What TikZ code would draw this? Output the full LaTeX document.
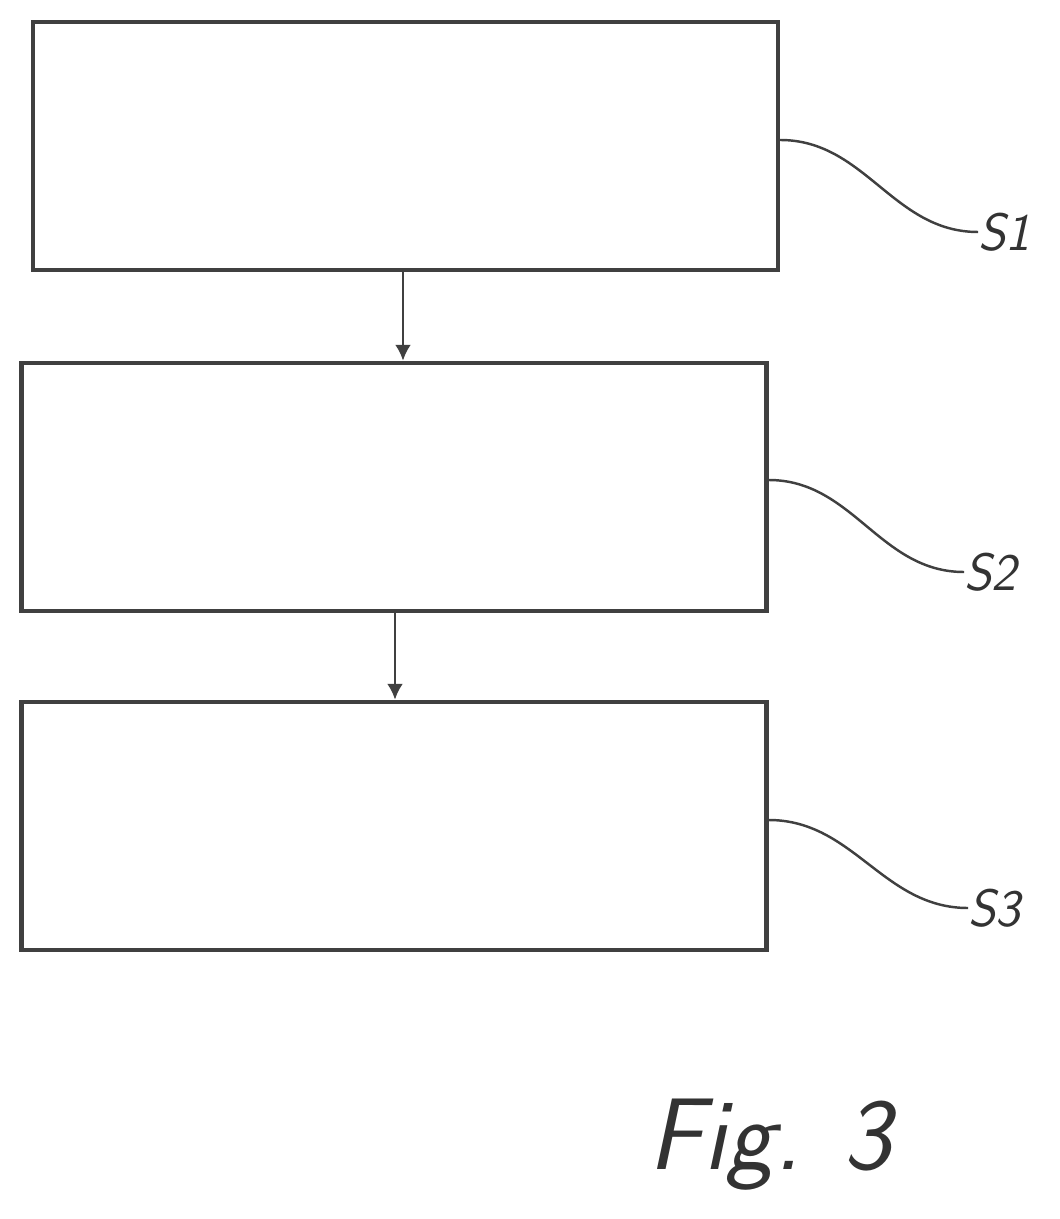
\documentclass[tikz,border=0pt]{standalone}
\usepackage{tikz}
\usetikzlibrary{arrows.meta,positioning}
\begin{document}
\begin{tikzpicture}
   [x=0.02cm,y=-0.02cm,
    box/.style={draw=black!75,line width=2.6pt,minimum width=14.9cm,minimum height=4.96cm,inner sep=0pt},
    lead/.style={draw=black!75,line width=1.4pt},
    flow/.style={draw=black!75,line width=1.6pt,-{Latex[length=9pt,width=9pt]}},
    lbl/.style={font=\sffamily\itshape\fontsize{30}{32}\selectfont,text=black!80,anchor=west,inner sep=0pt}]
   \useasboundingbox (0,0) rectangle (1059,1219);
   \node[box] (b1) at (405.5,146) {};
   \node[box] (b2) at (394,487) {};
   \node[box] (b3) at (394,826) {};
   \node[lbl] (s1) at (978,232) {S1};
   \node[lbl] (s2) at (964,572) {S2};
   \node[lbl] (s3) at (968,908) {S3};
   \node[font=\sffamily\itshape\fontsize{58}{60}\selectfont,text=black!80] (fig) at (770,1145) {Fig. 3};
   \draw[flow] (b1.south -| 403,0) -- (b2.north -| 403,0);
   \draw[flow] (b2.south -| 395,0) -- (b3.north -| 395,0);
   \draw[lead] ([yshift=0.12cm]b1.east) to[out=0,in=180] (s1.west);
   \draw[lead] ([yshift=0.14cm]b2.east) to[out=0,in=180] (s2.west);
   \draw[lead] ([yshift=0.12cm]b3.east) to[out=0,in=180] (s3.west);
\end{tikzpicture}
\end{document}
